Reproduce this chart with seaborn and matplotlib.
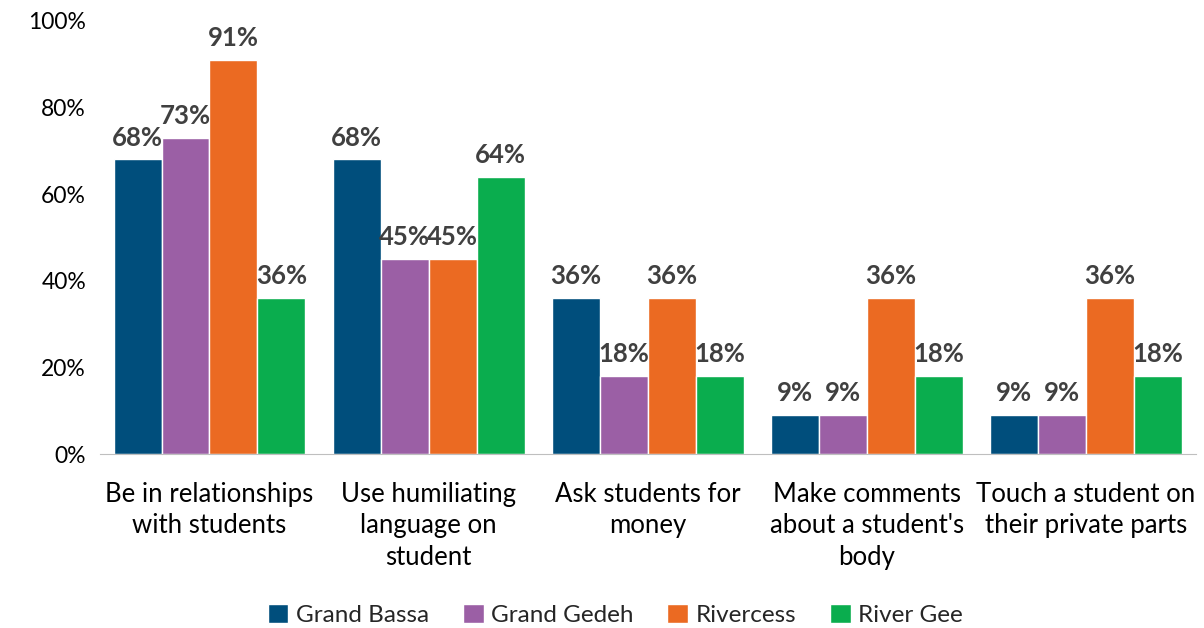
import pandas as pd
import seaborn as sns
import matplotlib.pyplot as plt

# survey results per county (percent)
categories = ["Be in relationships\nwith students",
              "Use humiliating\nlanguage on\nstudent",
              "Ask students for\nmoney",
              "Make comments\nabout a student's\nbody",
              "Touch a student on\ntheir private parts"]
counties = ["Grand Bassa", "Grand Gedeh", "Rivercess", "River Gee"]
grand_bassa = [68, 68, 36, 9, 9]
grand_gedeh = [73, 45, 18, 9, 9]
rivercess = [91, 45, 36, 36, 36]
river_gee = [36, 64, 18, 18, 18]
colors = ["#004E7C", "#9B5FA5", "#EB6A22", "#0AAD4E"]

df = pd.DataFrame({"Category": categories,
                   "Grand Bassa": grand_bassa,
                   "Grand Gedeh": grand_gedeh,
                   "Rivercess": rivercess,
                   "River Gee": river_gee})
df = df.melt(id_vars="Category", var_name="County", value_name="Pct")

sns.set_style("white")
plt.rcParams['font.family'] = ['Lato', 'DejaVu Sans']

fig = plt.figure(figsize=(12.04, 6.28), dpi=100)
ax = fig.add_axes([0.083, 0.277, 0.91, 0.69])
sns.barplot(data=df, x="Category", y="Pct", hue="County", hue_order=counties,
            palette=colors, saturation=1, width=0.876, ax=ax)

for c in ax.containers:
    ax.bar_label(c, fmt="%d%%", padding=7, fontsize=18.5, fontweight="bold", color="#404040")

ax.set_ylim(0, 100)
ax.set_yticks(range(0, 101, 20))
ax.set_yticklabels([f"{v}%" for v in range(0, 101, 20)])
ax.set_xlabel("")
ax.set_ylabel("")
ax.tick_params(axis="both", length=0, colors="black")
ax.tick_params(axis="y", labelsize=16.5, pad=10)
ax.tick_params(axis="x", labelsize=18.5, pad=20)
for lab in ax.get_xticklabels():
    lab.set_linespacing(1.32)
for s in ["top", "right", "left"]:
    ax.spines[s].set_visible(False)
ax.spines["bottom"].set_color("#BFBFBF")

handles, labels = ax.get_legend_handles_labels()
ax.get_legend().remove()
fig.legend(handles, labels, loc="center", bbox_to_anchor=(0.511, 0.021), ncol=4,
           frameon=False, fontsize=17.5, handlelength=0.85, handleheight=0.85,
           handletextpad=0.3, columnspacing=1.4)

fig.savefig("out.png", dpi=100)
